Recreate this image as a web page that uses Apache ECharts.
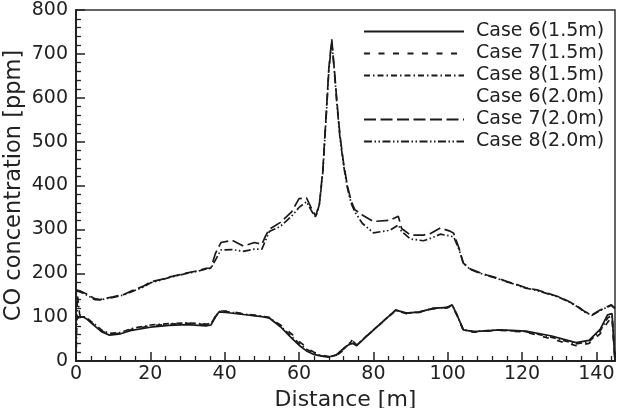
<!DOCTYPE html>
<html>
<head>
<meta charset="utf-8">
<script src="https://cdn.jsdelivr.net/npm/echarts@6/dist/echarts.min.js"></script>
<style>
  html, body { margin: 0; padding: 0; background: #fff; }
  #co_chart { width: 620px; height: 408px; }
</style>
</head>
<body>
<div id="co_chart"></div>
<script>
// CO concentration along the tunnel
var chart = echarts.init(document.getElementById('co_chart'));

const FONT = 'DejaVu Sans';
const INK = '#1a1a1a';

// names in legend order
const caseNames = ['Case 6(1.5m)', 'Case 7(1.5m)', 'Case 8(1.5m)', 'Case 6(2.0m)', 'Case 7(2.0m)', 'Case 8(2.0m)'];

// 1.5 m height curves
const dist15 = [0, 0.4, 1, 2, 3, 5, 7, 9, 12, 15, 20, 25, 30, 35, 36.3, 37.5, 38.5, 41, 45, 50, 52, 55, 58, 60, 62, 64, 66, 68, 70, 72, 73.5, 74.5, 75.5, 78, 82, 86, 89, 92.5, 96, 99.8, 101.2, 102.5, 104.2, 107, 114, 121, 128, 131, 134.5, 138, 141, 143, 144.2, 145];
const case6_15 = [100, 102, 101, 100, 95, 80, 66, 59, 62, 70, 77, 81, 83, 80, 82, 100, 112, 110, 106, 101, 98, 78, 52, 36, 23, 15, 11, 9, 14, 29, 38, 40, 35, 55, 86, 116, 109, 112, 120, 122, 128, 105, 71, 67, 71, 68, 57, 50, 42, 47, 72, 105, 108, 0];
const case7_15 = [95, 98, 100, 99, 96, 82, 68, 61, 63, 72, 80, 84, 86, 83, 84, 102, 114, 114, 108, 102, 99, 82, 62, 45, 31, 20, 14, 10, 12, 25, 38, 50, 36, 55, 85, 115, 108, 111, 119, 121, 126, 104, 70, 66, 70, 66, 50, 43, 35, 40, 62, 88, 100, 0];
const case8_15 = [0, 150, 105, 101, 97, 84, 70, 63, 65, 74, 82, 85, 87, 84, 85, 101, 113, 112, 107, 102, 99, 80, 56, 40, 27, 18, 12, 9, 13, 27, 40, 45, 37, 56, 86, 116, 109, 112, 120, 122, 127, 105, 71, 67, 71, 67, 54, 47, 39, 44, 68, 98, 104, 0];

// 2.0 m height curves (Case 6 at 2.0 m is not drawn in the figure)
const dist20 = [0, 1, 3, 5, 6.5, 8, 10, 13, 15, 18, 20, 23, 25, 28, 30, 33, 35, 36.3, 37.5, 39, 42, 45, 48, 50, 51, 52, 55, 58, 60, 62, 63.5, 64.5, 65.5, 66.4, 67, 67.5, 68, 68.8, 69.5, 70.2, 71, 72, 73, 74, 75, 77, 80, 84.5, 86.7, 87.6, 90, 93.5, 95.5, 98, 100.6, 101.6, 103, 104.2, 106, 108.7, 110.5, 113, 116, 118, 121, 124, 127, 130, 132.5, 135, 137, 138.8, 141, 144, 145];
const case6_20 = [];
const case7_20 = [162, 160, 152, 142, 140, 143, 146, 152, 160, 170, 180, 186, 191, 197, 201, 206, 211, 212, 245, 270, 275, 262, 270, 266, 285, 300, 316, 340, 370, 372, 345, 330, 360, 435, 520, 590, 665, 733, 665, 590, 515, 450, 400, 365, 345, 333, 318, 321, 330, 302, 287, 287, 291, 303, 296, 291, 258, 223, 210, 201, 196, 190, 181, 176, 167, 162, 154, 146, 136, 124, 112, 105, 116, 128, 120];
const case8_20 = [160, 158, 150, 140, 139, 142, 145, 151, 158, 168, 178, 185, 190, 196, 200, 205, 210, 211, 230, 253, 254, 250, 255, 255, 275, 295, 307, 330, 350, 363, 340, 328, 358, 430, 515, 585, 660, 728, 660, 585, 510, 445, 395, 360, 340, 314, 292, 298, 310, 295, 278, 274, 280, 289, 285, 283, 255, 223, 209, 200, 195, 189, 180, 175, 166, 161, 153, 145, 135, 123, 111, 104, 115, 127, 120];

// axis ticks
const xTicks = { min: 0, max: 145, interval: 20 };
const yTicks = { min: 0, max: 800, interval: 100 };

function pairs(xs, ys) {
  var out = [];
  for (var i = 0; i < ys.length; i++) {
    out.push([xs[i], ys[i]]);
  }
  return out;
}

// dash patterns per curve
const dashes = ['solid', [6, 8.5], [6, 3, 1.5, 3], 'solid', [12, 4.5], [8, 2.5, 1.5, 2.5, 1.5, 2.5]];
const curves = [pairs(dist15, case6_15), pairs(dist15, case7_15), pairs(dist15, case8_15),
                pairs(dist20, case6_20), pairs(dist20, case7_20), pairs(dist20, case8_20)];

var series = [];
for (var k = 0; k < caseNames.length; k++) {
  series.push({
    name: caseNames[k],
    type: 'line',
    symbol: 'none',
    data: curves[k],
    lineStyle: {
      color: INK,
      width: 1.7,
      type: dashes[k],
      opacity: k === 3 ? 0 : 1
    },
    itemStyle: { color: INK },
    z: 3
  });
}

var option = {
  animation: false,
  backgroundColor: '#fff',
  grid: {
    left: 76, right: 5, top: 10, bottom: 47,
    outerBoundsMode: 'none',
    containLabel: false,
    show: true,
    borderColor: '#333',
    borderWidth: 1.5
  },
  legend: {
    orient: 'vertical',
    left: 358,
    top: 17,
    itemWidth: 100,
    itemHeight: 14,
    itemGap: 3,
    data: caseNames,
    // hide the marker dot, keep the dashed line
    itemStyle: { opacity: 0 },
    textStyle: {
      fontFamily: FONT,
      fontSize: 19,
      color: '#222',
      padding: [0, 0, 0, 7]
    }
  },
  xAxis: {
    type: 'value',
    min: xTicks.min, max: xTicks.max, interval: xTicks.interval,
    name: 'Distance [m]',
    nameLocation: 'middle',
    nameGap: 28,
    nameMoveOverlap: false,
    nameTextStyle: { fontFamily: FONT, fontSize: 22, color: '#222' },
    axisLine: { show: true, lineStyle: { color: '#222', width: 2 } },
    axisTick: { show: true, inside: true, length: 9, lineStyle: { color: '#222', width: 1.5 } },
    minorTick: { show: true, splitNumber: 5, length: 5, lineStyle: { color: '#222', width: 1.3 } },
    axisLabel: { fontFamily: FONT, fontSize: 19, color: '#222', margin: 4, showMaxLabel: false },
    splitLine: { show: false }
  },
  yAxis: {
    type: 'value',
    min: yTicks.min, max: yTicks.max, interval: yTicks.interval,
    name: 'CO concentration [ppm]',
    nameLocation: 'middle',
    nameGap: 50,
    nameMoveOverlap: false,
    nameTextStyle: { fontFamily: FONT, fontSize: 22.5, color: '#222' },
    axisLine: { show: true, lineStyle: { color: '#222', width: 2 } },
    axisTick: { show: true, inside: true, length: 9, lineStyle: { color: '#222', width: 1.5 } },
    minorTick: { show: true, splitNumber: 5, length: 5, lineStyle: { color: '#222', width: 1.3 } },
    axisLabel: { fontFamily: FONT, fontSize: 19, color: '#222', margin: 8 },
    splitLine: { show: false }
  },
  series: series
};

chart.setOption(option);
</script>
</body>
</html>
